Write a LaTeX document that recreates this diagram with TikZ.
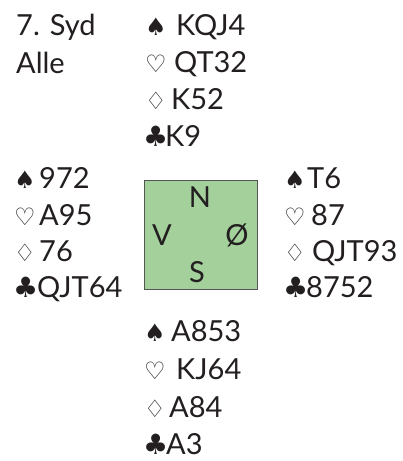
\documentclass[tikz,border=0pt]{standalone}
\usepackage{fontspec}
\setmainfont{Lato}
\newfontfamily\symfont{DejaVu Sans}
\definecolor{boxgreen}{RGB}{164,208,156}
\definecolor{ink}{RGB}{35,31,32}
\definecolor{boxline}{RGB}{85,85,85}
\begin{document}
\begin{tikzpicture}[x=1pt,y=-1pt,
  txt/.style={anchor=base west,inner sep=0pt,text=ink,font=\fontsize{29}{29}\selectfont},
  mid/.style={anchor=base,inner sep=0pt,text=ink,font=\fontsize{29}{29}\selectfont},
  suit/.style={anchor=base west,inner sep=0pt,text=ink,font=\symfont\fontsize{24}{24}\selectfont},
  clubsym/.style={anchor=base west,inner sep=0pt,text=ink,font=\symfont\fontsize{28}{28}\selectfont},
  compass/.style={draw=boxline,line width=1pt,fill=boxgreen}]
\useasboundingbox (0,0) rectangle (403,461);
% header
\node[txt] (deal) at (16,35) {7. Syd};
\node[txt] (vul) at (16,73) {Alle};
% North
\node[suit] (ns) at (145,35) {♠};
\node[txt] (nst) at (176,35) {KQJ4};
\node[suit] (nh) at (145,72) {♡};
\node[txt] (nht) at (174,72) {QT32};
\node[suit] (nd) at (145,109) {♢};
\node[txt] (ndt) at (171,109) {K52};
\node[clubsym] (nc) at (143,146) {♣};
\node[txt] (nct) at (165,146) {K9};
% West
\node[suit] (ws) at (14,188) {♠};
\node[txt] (wst) at (39,188) {972};
\node[suit] (wh) at (14,225) {♡};
\node[txt] (wht) at (39,225) {A95};
\node[suit] (wd) at (14,261) {♢};
\node[txt] (wdt) at (39,261) {76};
\node[clubsym] (wc) at (13,297) {♣};
\node[txt] (wct) at (37,297) {QJT64};
% East
\node[suit] (es) at (284,188) {♠};
\node[txt] (est) at (307,188) {T6};
\node[suit] (eh) at (284,225) {♡};
\node[txt] (eht) at (311,225) {87};
\node[suit] (ed) at (284,261) {♢};
\node[txt] (edt) at (312,261) {QJT93};
\node[clubsym] (ec) at (283,297) {♣};
\node[txt] (ect) at (306,297) {8752};
% South
\node[suit] (ss) at (144,341) {♠};
\node[txt] (sst) at (171,341) {A853};
\node[suit] (sh) at (144,379) {♡};
\node[txt] (sht) at (176,379) {KJ64};
\node[suit] (sd) at (144,417) {♢};
\node[txt] (sdt) at (169,417) {A84};
\node[clubsym] (sc) at (143,454) {♣};
\node[txt] (sct) at (166,454) {A3};
% compass box
\path[compass] (144,180) rectangle (257,289);
\node[mid] (cn) at (200,207) {N};
\node[mid] (cw) at (162,245) {V};
\node[mid] (ce) at (237,245) {Ø};
\node[mid] (cs) at (197,282) {S};
\end{tikzpicture}
\end{document}
